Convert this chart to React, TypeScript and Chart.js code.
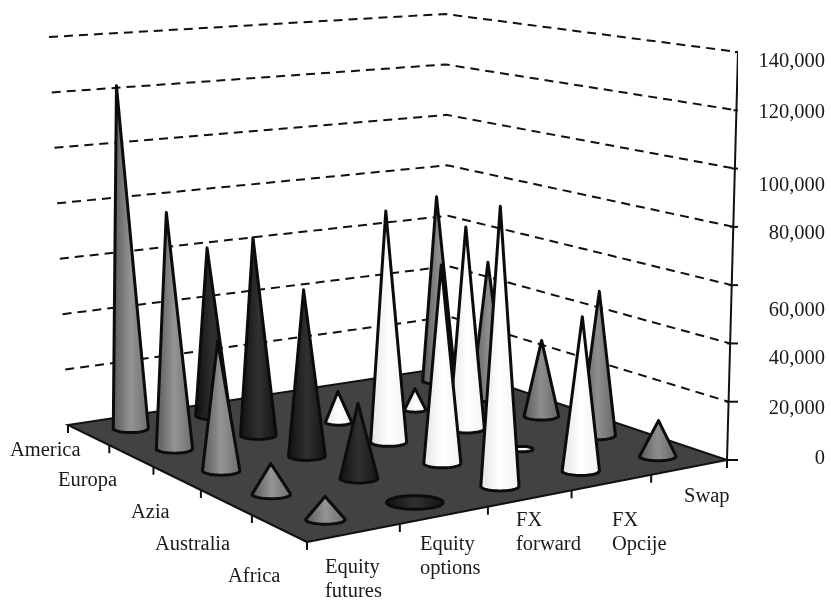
import React, { useEffect, useRef } from "react";
import { Chart, registerables } from "chart.js";

Chart.register(...registerables);

const categories = [["Equity", "futures"], ["Equity", "options"], ["FX", "forward"], ["FX", "Opcije"], ["Swap"]];
const regions = ["Africa", "Australia", "Azia", "Europa", "America"];
const tickLabels = ["0", "20,000", "40,000", "60,000", "80,000", "100,000", "120,000", "140,000"];
const tickValues = [0, 20000, 40000, 60000, 80000, 100000, 120000, 140000];

const africa = [7300, 0, 92500, 52000, 12300];
const australia = [10000, 25000, 67400, 200, 51000];
const azia = [43500, 57000, 80800, 72000, 27500];
const europa = [82000, 69800, 11000, 7700, 50800];
const america = [122700, 61200, null, null, 71000];
const rows = [africa, australia, azia, europa, america];

const W = 831, H = 601, RIGHT = 738, MAXV = 140000;
const FONT = '20.5px "Liberation Serif"';

// Floor corners and how far each wall corner rises at the top of the value range.
const F = [307, 542], R = [727, 460], B = [450, 367], L = [68, 425];
const oF = [-7, -452], oR = [11, -408], oB = [-5, -353], oL = [-19, -388];

const dx1 = R[0] - B[0], dx2 = L[0] - B[0], sx = F[0] - R[0] + B[0] - L[0];
const dy1 = R[1] - B[1], dy2 = L[1] - B[1], sy = F[1] - R[1] + B[1] - L[1];
const den = dx1 * dy2 - dx2 * dy1;
const g = (sx * dy2 - dx2 * sy) / den, h = (dx1 * sy - sx * dy1) / den;
const a = R[0] - F[0] + g * R[0], b = L[0] - F[0] + h * L[0];
const d = R[1] - F[1] + g * R[1], e = L[1] - F[1] + h * L[1];

function rise(u: number, v: number) {
  const m = (i: number) => (1 - u) * (1 - v) * oF[i] + u * (1 - v) * oR[i] + (1 - u) * v * oL[i] + u * v * oB[i];
  return [m(0), m(1)];
}
function project(u: number, v: number, value = 0) {
  const w = g * u + h * v + 1;
  const o = rise(u, v), t = value / MAXV;
  return { x: (a * u + b * v + F[0]) / w + t * o[0], y: (d * u + e * v + F[1]) / w + t * o[1] };
}

const shades: string[][] = [
  ["#5a5a5a", "#949494", "#6e6e6e"],
  ["#111111", "#303030", "#141414"],
  ["#e4e4e4", "#ffffff", "#f2f2f2"],
  ["#e4e4e4", "#ffffff", "#f2f2f2"],
  ["#5a5a5a", "#8e8e8e", "#666666"],
];
const baseFactor: Record<string, number> = { "3,2": 0.75, "3,3": 0.62, "1,3": 0.62, "0,1": 1.45 };

function conePoints(i: number, j: number, value: number) {
  const u = (i + 0.5) / 5, v = (j + 0.5) / 5;
  const c = project(u, v), tip = project(u, v, value);
  const height = -rise(u, v)[1];
  const rx = 0.045 * height * (baseFactor[`${j},${i}`] ?? 1), ry = rx * 0.24;
  const pts: { x: number; y: number }[] = [];
  const flat = c.y - tip.y < ry;
  const n = 24;
  for (let k = 0; k <= n; k++) {
    const t = (Math.PI * k) / n;
    pts.push({ x: c.x + rx * Math.cos(t), y: c.y + ry * Math.sin(t) });
  }
  if (flat) {
    for (let k = 1; k <= n; k++) {
      const t = Math.PI + (Math.PI * k) / n;
      pts.push({ x: c.x + rx * Math.cos(t), y: c.y + ry * Math.sin(t) });
    }
  } else {
    pts.push(tip, pts[0]);
  }
  return { pts, baseY: c.y, left: c.x - rx, right: c.x + rx };
}

const lineBase = { showLine: true, pointRadius: 0, tension: 0, fill: false, borderColor: "#111", borderWidth: 2 };

function buildDatasets() {
  const list: any[] = [];
  for (let n = tickValues.length - 1; n >= 0; n--) {
    if (tickValues[n] === 0) continue;
    list.push({
      ...lineBase,
      borderDash: [9, 6],
      data: [project(0, 1, tickValues[n]), project(1, 1, tickValues[n]), project(1, 0, tickValues[n])],
    });
  }
  list.push({
    ...lineBase,
    fill: "shape",
    backgroundColor: "#424242",
    borderWidth: 2,
    data: [project(0, 0), project(1, 0), project(1, 1), project(0, 1), project(0, 0)],
  });
  // Right-hand wall axis line and its tick marks
  list.push({ ...lineBase, data: [project(1, 0), project(1, 0, MAXV)] });
  tickValues.forEach((val) => {
    const p = project(1, 0, val);
    list.push({ ...lineBase, data: [{ x: p.x - 3, y: p.y }, { x: p.x + 12, y: p.y }] });
  });
  // Floor-edge ticks
  for (let k = 0; k <= 5; k++) {
    const p = project(k / 5, 0);
    list.push({ ...lineBase, data: [p, { x: p.x, y: p.y + 8 }] });
    const q = project(0, k / 5);
    list.push({ ...lineBase, data: [q, { x: q.x, y: q.y + 8 }] });
  }
  const cones: any[] = [];
  rows.forEach((row, j) =>
    row.forEach((val, i) => {
      if (val === null) return;
      const c = conePoints(i, j, val);
      const [edge, mid, far] = shades[i];
      cones.push({
        baseY: c.baseY,
        ds: {
          ...lineBase,
          fill: "shape",
          borderWidth: 3,
          borderJoinStyle: "round",
          borderColor: "#0c0c0c",
          data: c.pts,
          backgroundColor: (ctx: any) => {
            const gr = ctx.chart.ctx.createLinearGradient(c.left, 0, c.right, 0);
            gr.addColorStop(0, edge);
            gr.addColorStop(0.5, mid);
            gr.addColorStop(1, far);
            return gr;
          },
        },
      });
    })
  );
  cones.sort((p, q) => p.baseY - q.baseY);
  cones.forEach((c) => list.push(c.ds));
  return list.map((ds, idx) => ({ ...ds, order: list.length - idx }));
}

const categoryLabelLeft = [325, 420, 516, 612, 684];
const categoryLabelTop = [568, 545, 521, 521, 497];
const regionLabelLeft = [228, 155, 131, 58, 10];
const regionLabelMid = [577, 545, 513, 481, 451];

const labelPlugin = {
  id: "axisLabels",
  afterDraw(chart: any) {
    const c = chart.ctx;
    c.save();
    c.font = FONT;
    c.fillStyle = "#1a1a1a";
    c.textAlign = "left";
    c.textBaseline = "middle";
    categories.forEach((lines, i) => {
      lines.forEach((t, k) => c.fillText(t, categoryLabelLeft[i], categoryLabelTop[i] + k * 24));
    });
    regions.forEach((t, j) => c.fillText(t, regionLabelLeft[j], regionLabelMid[j]));
    c.restore();
  },
};

export default function App() {
  const ref = useRef<HTMLCanvasElement>(null);
  useEffect(() => {
    const labelShift = [-1, 7, 15, 25, 7, 17, 2, 10];
    const chart = new Chart(ref.current as HTMLCanvasElement, {
      type: "scatter",
      data: { datasets: buildDatasets() },
      plugins: [labelPlugin],
      options: {
        animation: false,
        responsive: false,
        layout: { padding: { right: 6, left: 0, top: 0, bottom: 0 } },
        plugins: { legend: { display: false }, title: { display: false }, tooltip: { enabled: false } },
        scales: {
          x: { type: "linear", display: false, min: 0, max: RIGHT },
          y: {
            type: "linear",
            position: "right",
            reverse: true,
            min: 0,
            max: H,
            grid: { display: false, drawTicks: false },
            border: { display: false },
            afterFit: (s: any) => {
              s.width = W - 6 - RIGHT;
              s.paddingTop = 0;
              s.paddingBottom = 0;
            },
            afterBuildTicks: (s: any) => {
              s.ticks = tickValues.map((val, i) => ({ value: project(1, 0, val).y + labelShift[i] }));
            },
            ticks: {
              autoSkip: false,
              crossAlign: "far",
              color: "#1a1a1a",
              font: { family: "Liberation Serif", size: 20.5 },
              callback: (_v: any, i: number) => tickLabels[i],
            },
          },
        },
      } as any,
    });
    return () => chart.destroy();
  }, []);
  return (
    <div style={{ position: "fixed", left: 0, top: 0, width: W, height: H, background: "#fff" }}>
      <canvas ref={ref} width={W} height={H} style={{ display: "block" }} />
    </div>
  );
}
